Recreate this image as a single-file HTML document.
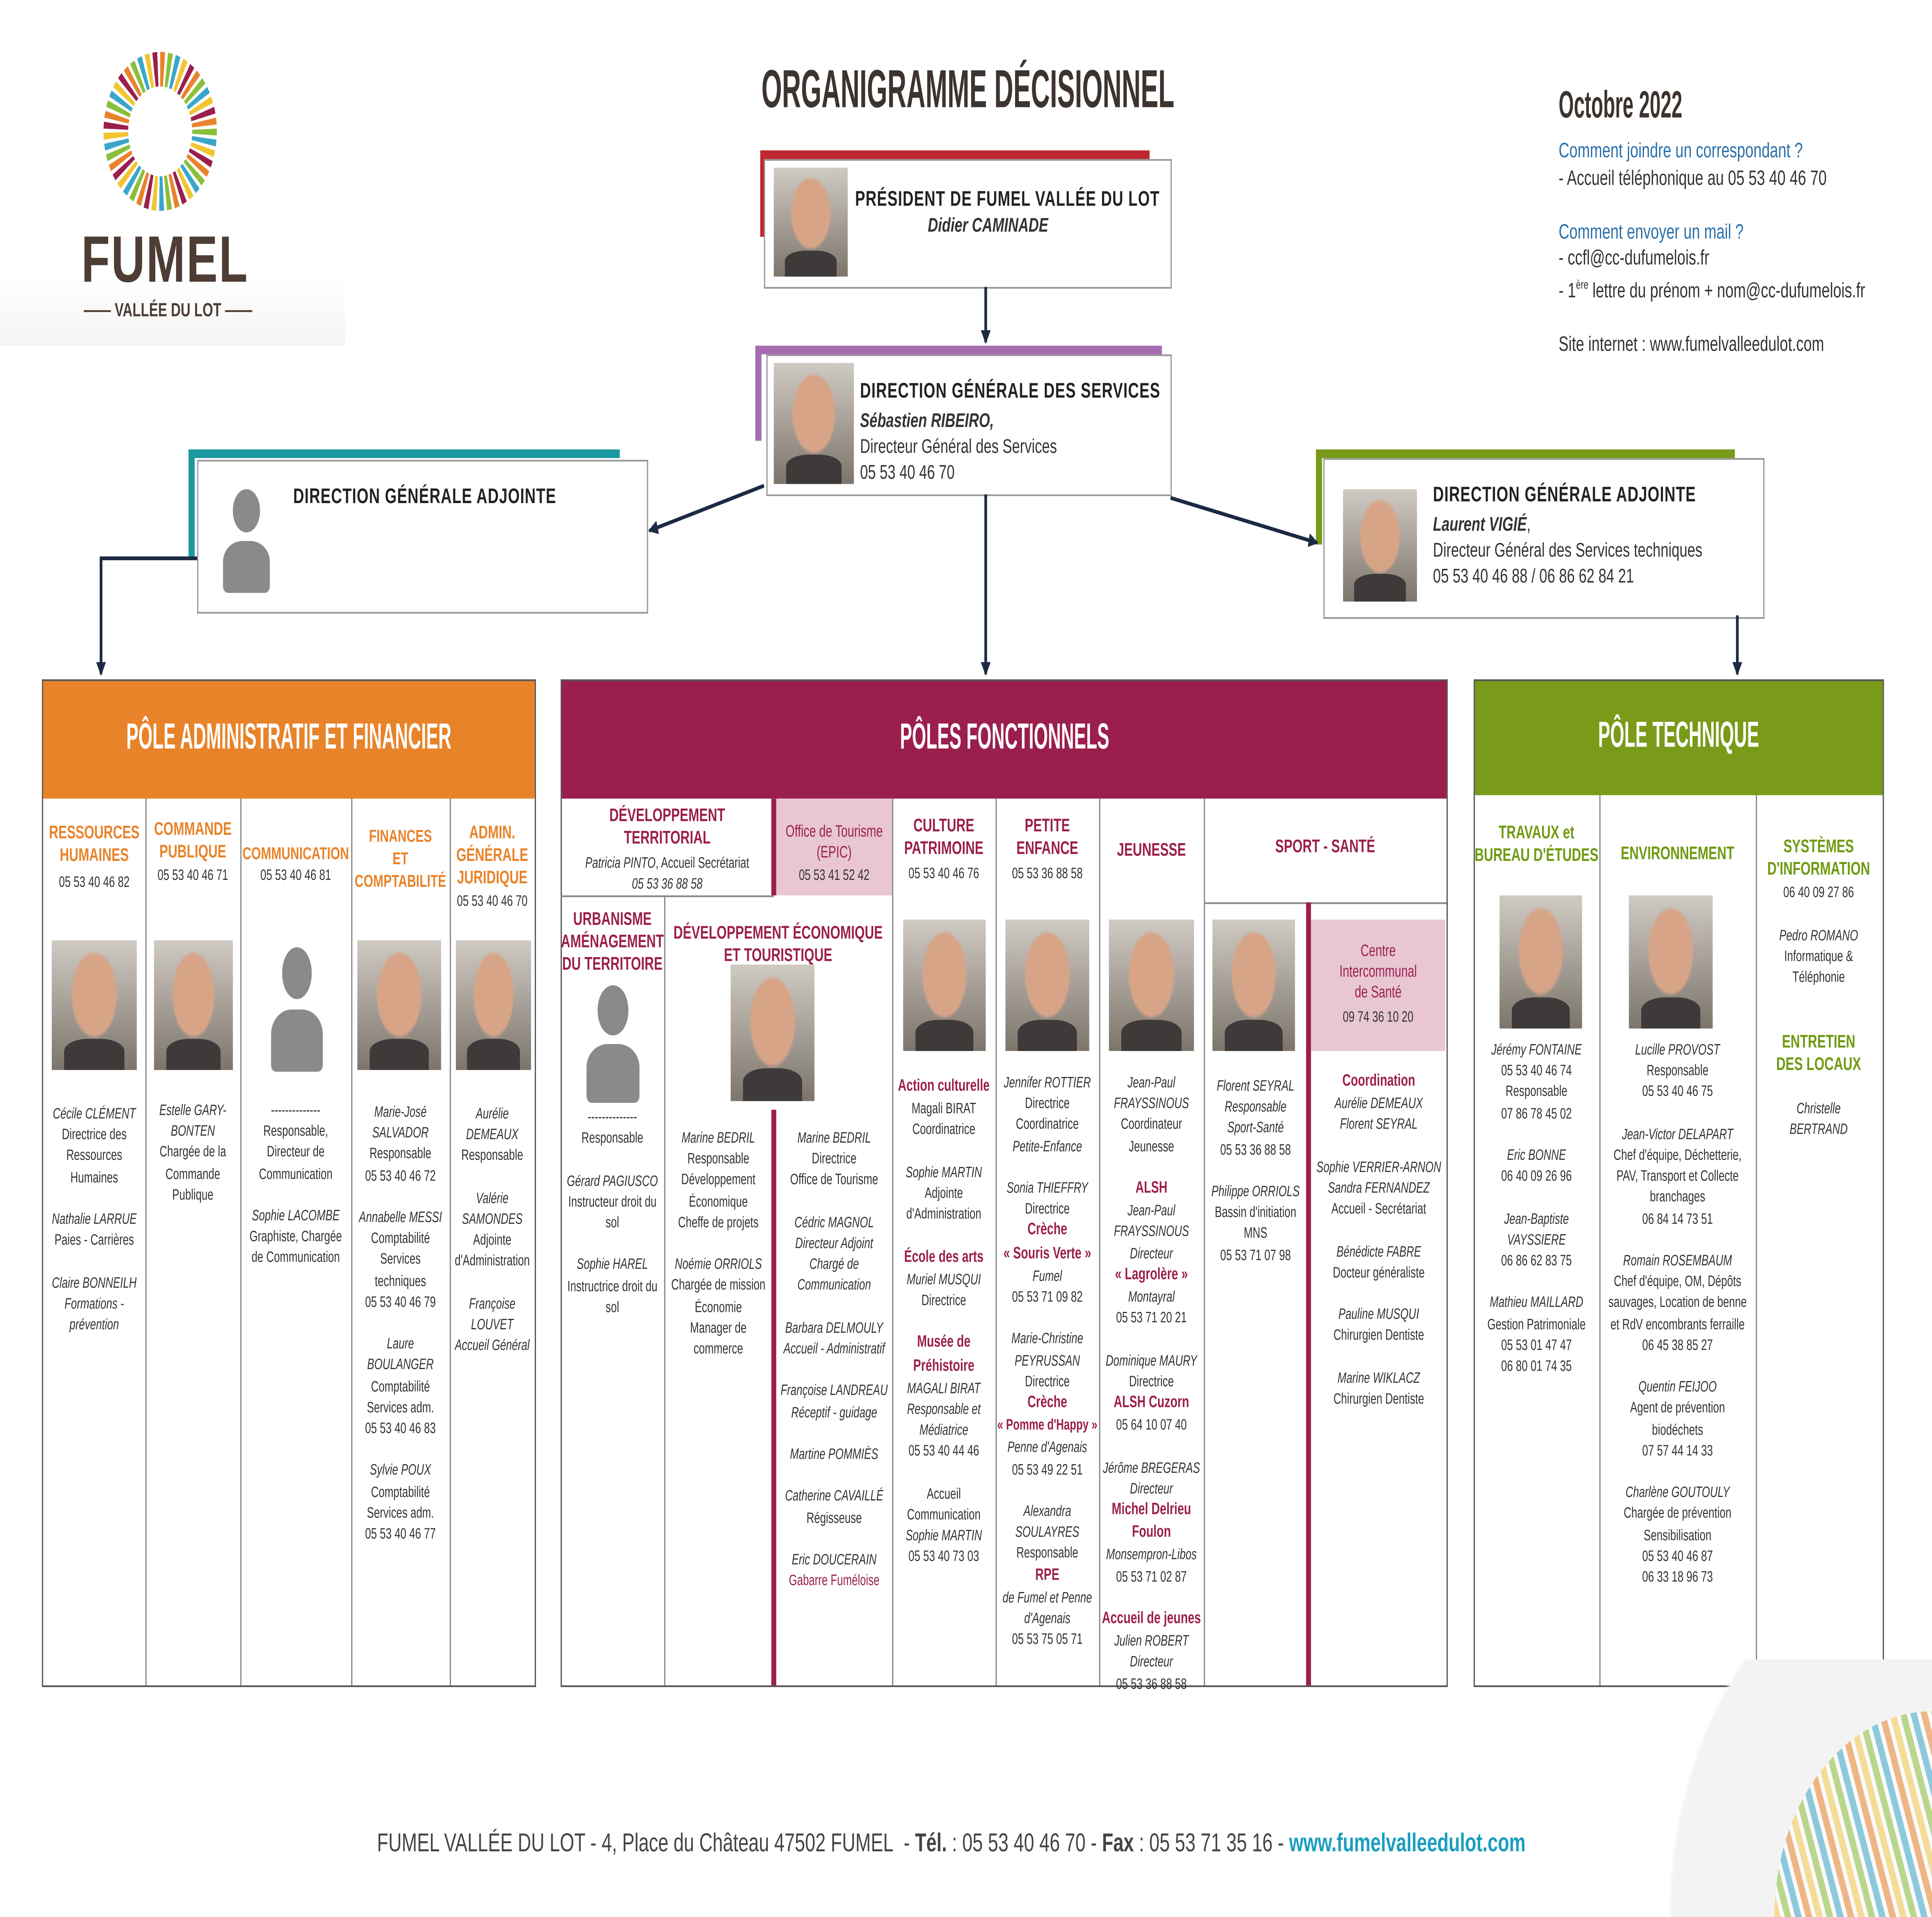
<!DOCTYPE html>
<html><head><meta charset="utf-8">
<style>
html,body{margin:0;padding:0;background:#fff;}
html,body{width:100%;height:100%;overflow:hidden;}
body{position:relative;}
#c{position:absolute;left:0;top:0;width:1568px;height:1109px;transform:scale(3.1639);transform-origin:0 0;font-family:"Liberation Sans",sans-serif;color:#333;}
.a{position:absolute;}
.col{position:absolute;text-align:center;font-size:8.6px;line-height:12.2px;color:#333;}
.col i{font-style:italic;}
.m{color:#9b1f4d;font-weight:bold;font-size:9.5px;}
.hd{position:absolute;text-align:center;font-weight:bold;font-size:10.5px;line-height:13px;}
.ho{color:#e8832a;}.hm{color:#9b1f4d;}.hg{color:#6f9a12;}
.ph{position:absolute;background:radial-gradient(ellipse 28% 34% at 50% 42%,#d7a488 0 90%,transparent 100%),linear-gradient(#cfcac2,#7d756c);}
.ph:after{content:"";position:absolute;left:15%;right:15%;bottom:0;height:24%;background:#3e3a3a;border-radius:40% 40% 0 0;}
.pl{position:absolute;}
.pl:before{content:"";position:absolute;left:50%;top:0;width:42%;height:42%;margin-left:-21%;border-radius:50%;background:#8a8a8a;}
.pl:after{content:"";position:absolute;left:14%;right:14%;bottom:0;height:50%;background:#8a8a8a;border-radius:40% 40% 4px 4px;}
.vl{position:absolute;width:1px;background:#888;}
.cap{font-weight:bold;color:#fff;position:absolute;text-align:center;font-size:21px;white-space:nowrap;}
.cap span{display:inline-block;transform:scaleX(0.7);}
.bx{position:absolute;background:#fff;border:1px solid #999;}
.bt{position:absolute;font-weight:bold;font-size:12.2px;letter-spacing:.4px;color:#222;white-space:nowrap;}
</style></head><body><div id="c">

<!-- logo -->
<div class="a" style="left:0;top:0;width:280px;height:200px;background:linear-gradient(180deg,#fff 80%,#f4f4f4);"></div>
<div class="a" style="left:84px;top:30px;width:92px;height:92px;border-radius:50%;background:repeating-conic-gradient(#e9832b 0 5deg,#fff 5deg 8deg,#8bbf3a 8deg 13deg,#fff 13deg 16deg,#3aa6c9 16deg 21deg,#fff 21deg 24deg,#f2c530 24deg 29deg,#fff 29deg 32deg,#9b1f4d 32deg 37deg,#fff 37deg 40deg);"></div>
<div class="a" style="left:104px;top:50px;width:52px;height:52px;border-radius:50%;background:#fff;"></div>
<div class="a" style="left:66px;top:130px;font-size:38px;font-weight:bold;color:#4d3d35;letter-spacing:1px;">FUMEL</div>
<div class="a" style="left:68px;top:174px;font-size:11px;font-weight:bold;color:#4d3d35;white-space:nowrap;">—— VALLÉE DU LOT ——</div>

<!-- title -->
<div class="a" style="left:618px;top:34px;font-weight:bold;font-size:31px;color:#3d332f;white-space:nowrap;transform:scaleX(0.69);transform-origin:0 0;">ORGANIGRAMME DÉCISIONNEL</div>

<!-- top right -->
<div class="a" style="left:1265px;top:48px;font-weight:bold;font-size:22px;color:#3d332f;white-space:nowrap;transform:scaleX(0.72);transform-origin:0 0;">Octobre 2022</div>
<div class="a" style="left:1265px;top:80px;font-size:12px;line-height:15.5px;color:#333;white-space:nowrap;">
<span style="color:#2a6fa8">Comment joindre un correspondant ?</span><br>- Accueil téléphonique au 05 53 40 46 70<br><br>
<span style="color:#2a6fa8">Comment envoyer un mail ?</span><br>- ccfl@cc-dufumelois.fr<br>- 1<sup style="font-size:7px">ère</sup> lettre du prénom + nom@cc-dufumelois.fr<br><br>Site internet : www.fumelvalleedulot.com</div>

<!-- president -->
<div class="a" style="left:617px;top:87px;width:316px;height:5px;background:#c0282f;"></div>
<div class="a" style="left:617px;top:87px;width:5px;height:50px;background:#c0282f;"></div>
<div class="bx" style="left:620px;top:92px;width:329px;height:73px;"></div>
<div class="ph" style="left:628px;top:97px;width:60px;height:63px;"></div>
<div class="bt" style="left:694px;top:108px;">PRÉSIDENT DE FUMEL VALLÉE DU LOT</div>
<div class="a" style="left:753px;top:125px;font-size:11.5px;font-weight:bold;font-style:italic;">Didier CAMINADE</div>

<!-- DGS -->
<div class="a" style="left:613px;top:200px;width:330px;height:5px;background:#a56cb0;"></div>
<div class="a" style="left:613px;top:200px;width:5px;height:55px;background:#a56cb0;"></div>
<div class="bx" style="left:622px;top:205px;width:327px;height:80px;"></div>
<div class="ph" style="left:628px;top:210px;width:65px;height:70px;"></div>
<div class="bt" style="left:698px;top:219px;">DIRECTION GÉNÉRALE DES SERVICES</div>
<div class="a" style="left:698px;top:237px;font-size:11.5px;line-height:15px;white-space:nowrap;"><b><i>Sébastien RIBEIRO,</i></b><br>Directeur Général des Services<br>05 53 40 46 70</div>

<!-- DGA left -->
<div class="a" style="left:153px;top:260px;width:350px;height:5px;background:#1a9aa0;"></div>
<div class="a" style="left:153px;top:260px;width:5px;height:62px;background:#1a9aa0;"></div>
<div class="bx" style="left:160px;top:266px;width:364px;height:87px;"></div>
<div class="pl" style="left:173px;top:283px;width:54px;height:60px;"></div>
<div class="bt" style="left:238px;top:280px;">DIRECTION GÉNÉRALE ADJOINTE</div>

<!-- DGA right -->
<div class="a" style="left:1068px;top:260px;width:340px;height:5px;background:#7a9a1a;"></div>
<div class="a" style="left:1068px;top:260px;width:5px;height:55px;background:#7a9a1a;"></div>
<div class="bx" style="left:1074px;top:265px;width:356px;height:91px;"></div>
<div class="ph" style="left:1090px;top:283px;width:60px;height:65px;"></div>
<div class="bt" style="left:1163px;top:279px;">DIRECTION GÉNÉRALE ADJOINTE</div>
<div class="a" style="left:1163px;top:297px;font-size:11.5px;line-height:15px;white-space:nowrap;"><b><i>Laurent VIGIÉ</i></b>,<br>Directeur Général des Services techniques<br>05 53 40 46 88 / 06 86 62 84 21</div>

<!-- connectors -->
<svg class="a" style="left:0;top:0" width="1568" height="1109">
<defs><marker id="ar" markerWidth="8" markerHeight="8" refX="7" refY="4" orient="auto" markerUnits="userSpaceOnUse"><path d="M0,0 L8,4 L0,8 z" fill="#1d2a44"/></marker></defs>
<g stroke="#1d2a44" stroke-width="2.2" fill="none">
<line x1="800" y1="166" x2="800" y2="198" marker-end="url(#ar)"/>
<line x1="800" y1="286" x2="800" y2="390" marker-end="url(#ar)"/>
<line x1="620" y1="281" x2="527" y2="307" marker-end="url(#ar)"/>
<line x1="950" y1="288" x2="1069" y2="314" marker-end="url(#ar)"/>
<polyline points="160,323 82,323 82,390" marker-end="url(#ar)"/>
<line x1="1410" y1="356" x2="1410" y2="390" marker-end="url(#ar)"/>
</g></svg>

<!-- POLE ADMIN -->
<div class="a" style="left:34px;top:393px;width:399px;height:581px;border:1px solid #555;"></div>
<div class="a" style="left:35px;top:394px;width:399px;height:68px;background:#e8832a;"></div>
<div class="cap" style="left:35px;top:415px;width:399px;"><span>PÔLE ADMINISTRATIF ET FINANCIER</span></div>
<div class="vl" style="left:118px;top:462px;height:513px;"></div>
<div class="vl" style="left:195px;top:462px;height:513px;"></div>
<div class="vl" style="left:285px;top:462px;height:513px;"></div>
<div class="vl" style="left:365px;top:462px;height:513px;"></div>

<div class="hd ho" style="left:35px;top:476px;width:83px;">RESSOURCES<br>HUMAINES</div>
<div class="col" style="left:35px;top:504px;width:83px;">05 53 40 46 82</div>
<div class="ph" style="left:42px;top:544px;width:69px;height:75px;"></div>
<div class="col" style="left:35px;top:638px;width:83px;"><i>Cécile CLÉMENT</i><br>Directrice des Ressources Humaines<br><br><i>Nathalie LARRUE</i><br>Paies - Carrières<br><br><i>Claire BONNEILH<br>Formations - prévention</i></div>

<div class="hd ho" style="left:118px;top:474px;width:77px;">COMMANDE<br>PUBLIQUE</div>
<div class="col" style="left:118px;top:500px;width:77px;">05 53 40 46 71</div>
<div class="ph" style="left:125px;top:544px;width:64px;height:75px;"></div>
<div class="col" style="left:120px;top:636px;width:73px;"><i>Estelle GARY-BONTEN</i><br>Chargée de la Commande Publique</div>

<div class="hd ho" style="left:195px;top:488px;width:90px;font-size:10px;">COMMUNICATION</div>
<div class="col" style="left:195px;top:500px;width:90px;">05 53 40 46 81</div>
<div class="pl" style="left:212px;top:548px;width:58px;height:72px;"></div>
<div class="col" style="left:198px;top:636px;width:84px;">--------------<br>Responsable, Directeur de Communication<br><br><i>Sophie LACOMBE</i><br>Graphiste, Chargée de Communication</div>

<div class="hd ho" style="left:285px;top:478px;width:80px;font-size:10px;">FINANCES<br>ET<br>COMPTABILITÉ</div>
<div class="ph" style="left:290px;top:544px;width:68px;height:75px;"></div>
<div class="col" style="left:287px;top:637px;width:76px;"><i>Marie-José SALVADOR</i><br>Responsable<br>05 53 40 46 72<br><br><i>Annabelle MESSI</i><br>Comptabilité Services techniques<br>05 53 40 46 79<br><br><i>Laure BOULANGER</i><br>Comptabilité Services adm.<br>05 53 40 46 83<br><br><i>Sylvie POUX</i><br>Comptabilité Services adm.<br>05 53 40 46 77</div>

<div class="hd ho" style="left:365px;top:476px;width:69px;">ADMIN.<br>GÉNÉRALE<br>JURIDIQUE</div>
<div class="col" style="left:365px;top:515px;width:69px;">05 53 40 46 70</div>
<div class="ph" style="left:370px;top:544px;width:61px;height:75px;"></div>
<div class="col" style="left:365px;top:638px;width:69px;"><i>Aurélie DEMEAUX</i><br>Responsable<br><br><i>Valérie SAMONDES</i><br>Adjointe d'Administration<br><br><i>Françoise LOUVET<br>Accueil Général</i></div>

<!-- POLES FONCTIONNELS -->
<div class="a" style="left:455px;top:393px;width:718px;height:581px;border:1px solid #555;"></div>
<div class="a" style="left:456px;top:394px;width:718px;height:68px;background:#9b1f4d;"></div>
<div class="cap" style="left:456px;top:415px;width:718px;"><span>PÔLES FONCTIONNELS</span></div>
<div class="a" style="left:455px;top:518px;width:173px;height:1px;background:#888;"></div>
<div class="vl" style="left:539px;top:518px;height:457px;"></div>
<div class="a" style="left:626px;top:462px;width:4px;height:56px;background:#9b1f4d;"></div>
<div class="a" style="left:626px;top:642px;width:4px;height:333px;background:#9b1f4d;"></div>
<div class="a" style="left:630px;top:462px;width:94px;height:56px;background:#e8c6d3;"></div>
<div class="vl" style="left:724px;top:462px;height:513px;"></div>
<div class="vl" style="left:808px;top:462px;height:513px;"></div>
<div class="vl" style="left:892px;top:462px;height:513px;"></div>
<div class="vl" style="left:977px;top:462px;height:513px;"></div>
<div class="a" style="left:977px;top:522px;width:197px;height:1px;background:#888;"></div>
<div class="a" style="left:1060px;top:522px;width:4px;height:453px;background:#9b1f4d;"></div>
<div class="a" style="left:1064px;top:532px;width:109px;height:76px;background:#e8c6d3;"></div>

<div class="hd hm" style="left:455px;top:466px;width:173px;">DÉVELOPPEMENT<br>TERRITORIAL</div>
<div class="col" style="left:455px;top:493px;width:173px;"><i>Patricia PINTO</i>, Accueil Secrétariat<br><i>05 53 36 88 58</i></div>
<div class="col" style="left:630px;top:476px;width:94px;color:#9b1f4d;font-size:9.5px;">Office de Tourisme<br>(EPIC)<br><span style="color:#333;font-size:8.6px">05 53 41 52 42</span></div>

<div class="hd hm" style="left:455px;top:526px;width:84px;">URBANISME<br>AMÉNAGEMENT<br>DU TERRITOIRE</div>
<div class="pl" style="left:468px;top:570px;width:59px;height:68px;"></div>
<div class="col" style="left:455px;top:640px;width:84px;">--------------<br>Responsable<br><br><i>Gérard PAGIUSCO</i><br>Instructeur droit du sol<br><br><i>Sophie HAREL</i><br>Instructrice droit du sol</div>

<div class="hd hm" style="left:539px;top:534px;width:185px;">DÉVELOPPEMENT ÉCONOMIQUE<br>ET TOURISTIQUE</div>
<div class="ph" style="left:593px;top:558px;width:68px;height:79px;"></div>
<div class="col" style="left:541px;top:652px;width:84px;"><i>Marine BEDRIL</i><br>Responsable Développement Économique<br>Cheffe de projets<br><br><i>Noémie ORRIOLS</i><br>Chargée de mission Économie<br>Manager de commerce</div>
<div class="col" style="left:630px;top:652px;width:94px;"><i>Marine BEDRIL</i><br>Directrice<br>Office de Tourisme<br><br><i>Cédric MAGNOL<br>Directeur Adjoint<br>Chargé de Communication</i><br><br><i>Barbara DELMOULY<br>Accueil - Administratif</i><br><br><i>Françoise LANDREAU<br>Réceptif - guidage</i><br><br><i>Martine POMMIÈS</i><br><br><i>Catherine CAVAILLÉ</i><br>Régisseuse<br><br><i>Eric DOUCERAIN</i><br><span style="color:#9b1f4d">Gabarre Fuméloise</span></div>

<div class="hd hm" style="left:724px;top:472px;width:84px;">CULTURE<br>PATRIMOINE</div>
<div class="col" style="left:724px;top:499px;width:84px;">05 53 40 46 76</div>
<div class="ph" style="left:733px;top:532px;width:67px;height:76px;"></div>
<div class="col" style="left:724px;top:622px;width:84px;"><span class="m">Action culturelle</span><br>Magali BIRAT<br>Coordinatrice<br><br><i>Sophie MARTIN</i><br>Adjointe d'Administration<br><br><span class="m">École des arts</span><br><i>Muriel MUSQUI</i><br>Directrice<br><br><span class="m">Musée de<br>Préhistoire</span><br><i>MAGALI BIRAT<br>Responsable et Médiatrice</i><br>05 53 40 44 46<br><br>Accueil Communication<br><i>Sophie MARTIN</i><br>05 53 40 73 03</div>

<div class="hd hm" style="left:808px;top:472px;width:84px;">PETITE<br>ENFANCE</div>
<div class="col" style="left:808px;top:499px;width:84px;">05 53 36 88 58</div>
<div class="ph" style="left:816px;top:532px;width:68px;height:76px;"></div>
<div class="col" style="left:808px;top:620px;width:84px;"><i>Jennifer ROTTIER</i><br>Directrice<br>Coordinatrice<br><i>Petite-Enfance</i><br><br><i>Sonia THIEFFRY</i><br>Directrice<br><span class="m">Crèche<br>« Souris Verte »</span><br><i>Fumel</i><br>05 53 71 09 82<br><br><i>Marie-Christine PEYRUSSAN</i><br>Directrice<br><span class="m">Crèche<br><span style="font-size:8.6px">« Pomme d'Happy »</span></span><br><i>Penne d'Agenais</i><br>05 53 49 22 51<br><br><i>Alexandra SOULAYRES</i><br>Responsable<br><span class="m">RPE</span><br><i>de Fumel et Penne d'Agenais</i><br>05 53 75 05 71</div>

<div class="hd hm" style="left:892px;top:486px;width:85px;">JEUNESSE</div>
<div class="ph" style="left:900px;top:532px;width:69px;height:76px;"></div>
<div class="col" style="left:892px;top:620px;width:85px;"><i>Jean-Paul FRAYSSINOUS</i><br>Coordinateur Jeunesse<br><br><span class="m">ALSH</span><br><i>Jean-Paul FRAYSSINOUS<br>Directeur</i><br><span class="m">« Lagrolère »</span><br><i>Montayral</i><br>05 53 71 20 21<br><br><i>Dominique MAURY</i><br>Directrice<br><span class="m">ALSH Cuzorn</span><br>05 64 10 07 40<br><br><i>Jérôme BREGERAS<br>Directeur</i><br><span class="m">Michel Delrieu<br>Foulon</span><br><i>Monsempron-Libos</i><br>05 53 71 02 87<br><br><span class="m">Accueil de jeunes</span><br><i>Julien ROBERT<br>Directeur</i><br>05 53 36 88 58</div>

<div class="hd hm" style="left:977px;top:484px;width:197px;">SPORT - SANTÉ</div>
<div class="ph" style="left:984px;top:532px;width:67px;height:76px;"></div>
<div class="col" style="left:977px;top:622px;width:84px;"><i>Florent SEYRAL<br>Responsable<br>Sport-Santé</i><br>05 53 36 88 58<br><br><i>Philippe ORRIOLS</i><br>Bassin d'initiation MNS<br>05 53 71 07 98</div>
<div class="col" style="left:1064px;top:545px;width:109px;color:#9b1f4d;font-size:9.5px;">Centre<br>Intercommunal<br>de Santé<br><span style="color:#333;font-size:8.6px">09 74 36 10 20</span></div>
<div class="col" style="left:1064px;top:619px;width:110px;"><span class="m">Coordination</span><br><i>Aurélie DEMEAUX<br>Florent SEYRAL</i><br><br><i>Sophie VERRIER-ARNON<br>Sandra FERNANDEZ</i><br>Accueil - Secrétariat<br><br><i>Bénédicte FABRE</i><br>Docteur généraliste<br><br><i>Pauline MUSQUI</i><br>Chirurgien Dentiste<br><br><i>Marine WIKLACZ</i><br>Chirurgien Dentiste</div>

<!-- POLE TECHNIQUE -->
<div class="a" style="left:1196px;top:393px;width:331px;height:581px;border:1px solid #555;"></div>
<div class="a" style="left:1197px;top:394px;width:331px;height:66px;background:#7a9a1a;"></div>
<div class="cap" style="left:1197px;top:414px;width:331px;"><span>PÔLE TECHNIQUE</span></div>
<div class="vl" style="left:1298px;top:460px;height:515px;"></div>
<div class="vl" style="left:1425px;top:460px;height:515px;"></div>

<div class="hd hg" style="left:1196px;top:476px;width:102px;">TRAVAUX et<br>BUREAU D'ÉTUDES</div>
<div class="ph" style="left:1217px;top:518px;width:67px;height:77px;"></div>
<div class="col" style="left:1198px;top:601px;width:98px;"><i>Jérémy FONTAINE</i><br>05 53 40 46 74<br>Responsable<br>07 86 78 45 02<br><br><i>Eric BONNE</i><br>06 40 09 26 96<br><br><i>Jean-Baptiste VAYSSIERE</i><br>06 86 62 83 75<br><br><i>Mathieu MAILLARD</i><br>Gestion Patrimoniale<br>05 53 01 47 47<br>06 80 01 74 35</div>

<div class="hd hg" style="left:1298px;top:488px;width:127px;">ENVIRONNEMENT</div>
<div class="ph" style="left:1322px;top:518px;width:68px;height:77px;"></div>
<div class="col" style="left:1302px;top:601px;width:119px;"><i>Lucille PROVOST</i><br>Responsable<br>05 53 40 46 75<br><br><i>Jean-Victor DELAPART</i><br>Chef d'équipe, Déchetterie, PAV, Transport et Collecte branchages<br>06 84 14 73 51<br><br><i>Romain ROSEMBAUM</i><br>Chef d'équipe, OM, Dépôts sauvages, Location de benne et RdV encombrants ferraille<br>06 45 38 85 27<br><br><i>Quentin FEIJOO</i><br>Agent de prévention biodéchets<br>07 57 44 14 33<br><br><i>Charlène GOUTOULY</i><br>Chargée de prévention Sensibilisation<br>05 53 40 46 87<br>06 33 18 96 73</div>

<div class="hd hg" style="left:1425px;top:484px;width:102px;">SYSTÈMES<br>D'INFORMATION</div>
<div class="col" style="left:1425px;top:510px;width:102px;">06 40 09 27 86</div>
<div class="col" style="left:1435px;top:535px;width:82px;"><i>Pedro ROMANO</i><br>Informatique &amp; Téléphonie</div>
<div class="hd hg" style="left:1425px;top:597px;width:102px;">ENTRETIEN<br>DES LOCAUX</div>
<div class="col" style="left:1435px;top:635px;width:82px;"><i>Christelle BERTRAND</i></div>

<!-- bottom-right decoration -->
<div class="a" style="left:1250px;top:960px;width:318px;height:149px;background:radial-gradient(circle at 100% 100%,#f3f3f3 0 60%,transparent 61%);"></div>
<div class="a" style="left:1440px;top:990px;width:128px;height:119px;background:repeating-linear-gradient(70deg,#f6c94a 0 5px,#fff 5px 8px,#8bbf3a 8px 13px,#fff 13px 16px,#3aa6c9 16px 21px,#fff 21px 24px,#e9832b 24px 29px,#fff 29px 32px);opacity:.55;border-radius:100% 0 0 0;"></div>

<!-- footer -->
<div class="a" style="left:306px;top:1058px;font-size:15px;color:#444;white-space:nowrap;">FUMEL VALLÉE DU LOT - 4, Place du Château 47502 FUMEL&nbsp; - <b>Tél.</b> : 05 53 40 46 70 - <b>Fax</b> : 05 53 71 35 16 - <span style="color:#1a9ec0;font-weight:bold">www.fumelvalleedulot.com</span></div>

</div>
<script>
(function(){
  var w=window.innerWidth||document.documentElement.clientWidth;
  var h=window.innerHeight||document.documentElement.clientHeight;
  if(w>0&&h>0){
    document.getElementById('c').style.transform='scale('+(w/1568)+','+(h/1109)+')';
  }
})();
</script>
</body></html>
